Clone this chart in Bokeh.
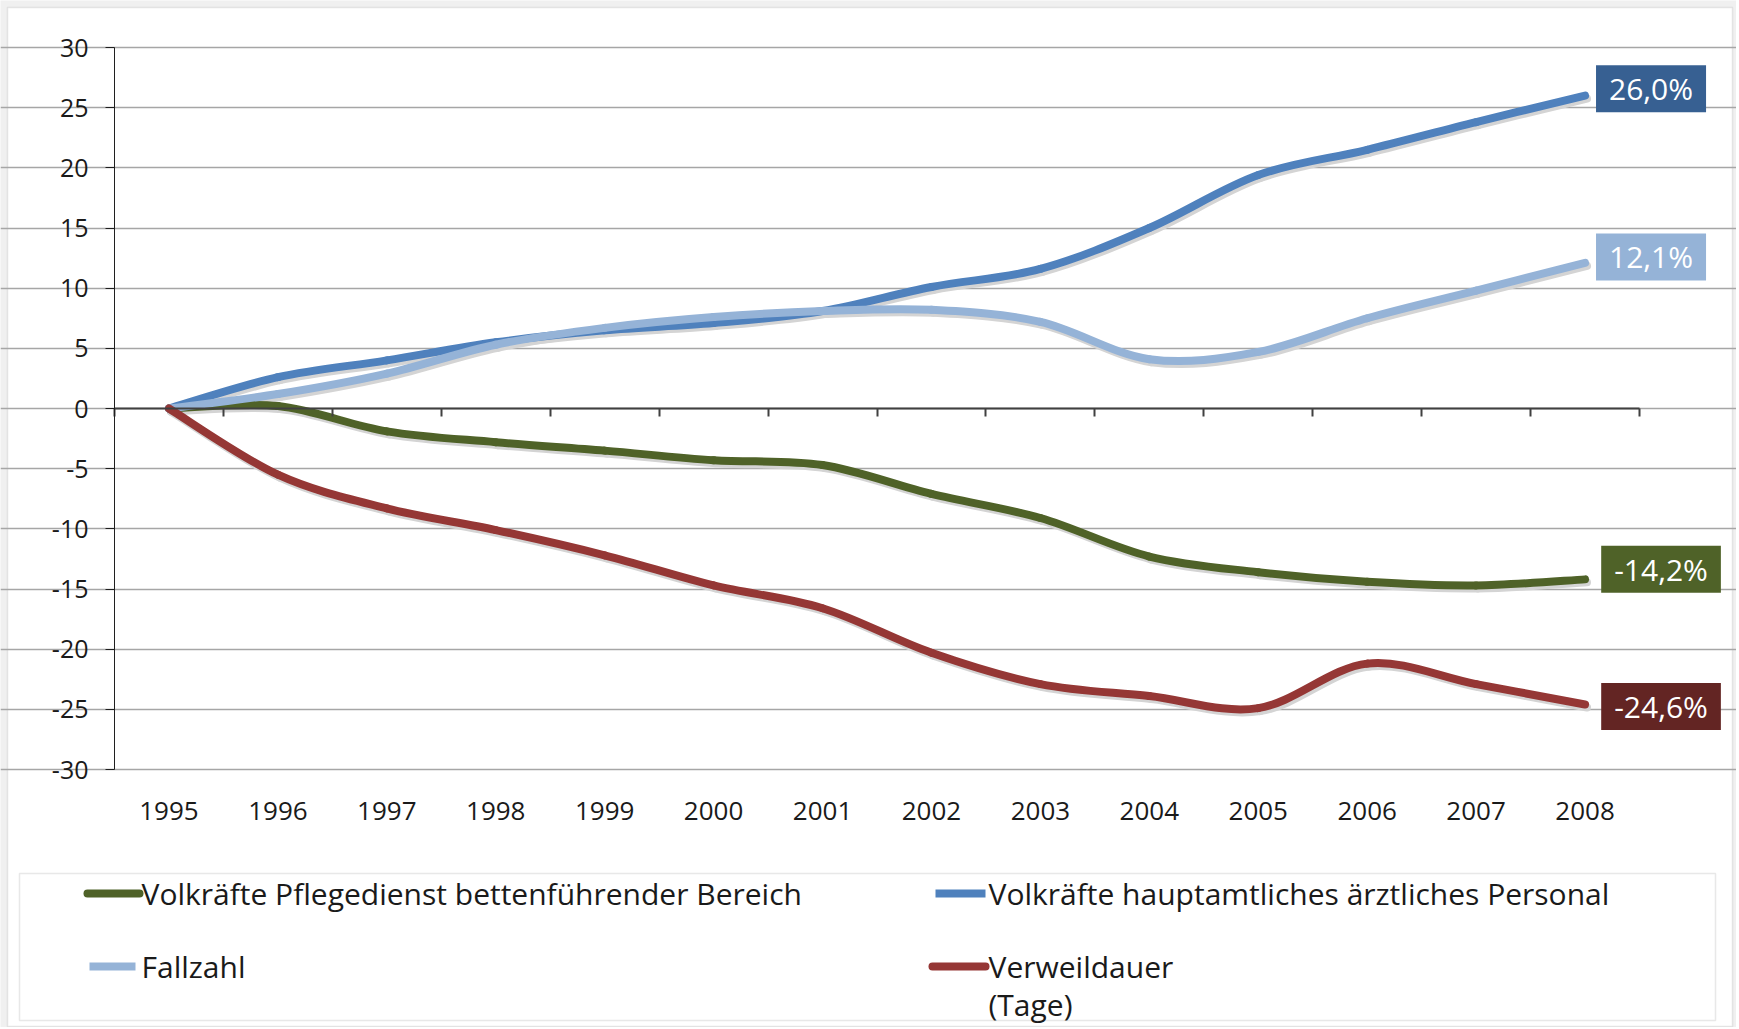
from bokeh.plotting import figure
from bokeh.models import (Range1d, FixedTicker, Label, LinearAxis, CustomJSTickFormatter,
                          ColumnDataSource, BoxAnnotation)
from bokeh.embed import file_html
from bokeh.resources import INLINE

# ---------------- data ----------------
years = [1995, 1996, 1997, 1998, 1999, 2000, 2001, 2002, 2003, 2004, 2005, 2006, 2007, 2008]
pflegedienst = [0.0, 0.2, -1.9, -2.8, -3.5, -4.3, -4.7, -7.1, -9.1, -12.3, -13.6, -14.4, -14.7, -14.2]
aerztliches = [0.0, 2.6, 4.0, 5.5, 6.5, 7.1, 8.1, 10.1, 11.6, 15.0, 19.4, 21.5, 23.8, 26.0]
fallzahl = [0.0, 1.2, 2.9, 5.3, 6.7, 7.6, 8.1, 8.2, 7.2, 4.1, 4.7, 7.5, 9.8, 12.1]
verweildauer = [0.0, -5.5, -8.3, -10.1, -12.2, -14.7, -16.6, -20.3, -22.9, -23.9, -24.9, -21.2, -22.9, -24.6]

series_names = [
    "Volkräfte Pflegedienst bettenführender Bereich",
    "Volkräfte hauptamtliches ärztliches Personal",
    "Fallzahl",
    "Verweildauer\n(Tage)",
]
end_labels = ["-14,2%", "26,0%", "12,1%", "-24,6%"]
y_ticks = [-30, -25, -20, -15, -10, -5, 0, 5, 10, 15, 20, 25, 30]

# ---------------- styles / layout (pixels) ----------------
series_values = [pflegedienst, aerztliches, fallzahl, verweildauer]
line_colors = ["#4F6228", "#4F81BD", "#95B3D7", "#953735"]
box_colors = ["#4F6228", "#376092", "#95B3D7", "#632523"]
label_dx = [76, 66, 66, 76]
label_dy = [10, 7, 6, -2]
FONT = "Open Sans"
TEXT = "#1a1a1a"

W, H = 1736, 1027
PLOT_L, PLOT_T, PLOT_B, PLOT_R = 114, 47, 769, 1639   # plot area in canvas pixels
PPX = (PLOT_R - PLOT_L) / len(years)                   # pixels per year slot
PPY = (PLOT_B - PLOT_T) / (y_ticks[-1] - y_ticks[0])   # pixels per unit

x0_data = years[0] - 0.5


def px2x(px):
    return x0_data + (px - PLOT_L) / PPX


def py2y(py):
    return y_ticks[-1] - (py - PLOT_T) / PPY


p = figure(width=W, height=H, output_backend="svg", toolbar_location=None,
           x_range=Range1d(px2x(0), px2x(W)), y_range=Range1d(py2y(H), py2y(0)),
           min_border=0, min_border_left=0, min_border_right=0,
           min_border_top=0, min_border_bottom=0)
p.outline_line_color = None
p.background_fill_color = "#f0f0f0"
p.border_fill_color = "#f0f0f0"

# white chart area with thin border
p.add_layout(BoxAnnotation(left=px2x(7), right=px2x(1732), top=py2y(7), bottom=py2y(1026),
                           fill_color="white", fill_alpha=1.0, line_color="#b4b4b4",
                           line_width=1.5, level="image"))

bounds_x = (years[0] - 0.5, years[-1] + 0.5)

# y axis (placed at the left edge of the plot area)
p.yaxis.fixed_location = x0_data
p.yaxis.bounds = (y_ticks[0], y_ticks[-1])
p.yaxis.ticker = FixedTicker(ticks=y_ticks)
p.yaxis.major_label_overrides = {t: str(t) for t in y_ticks}
p.yaxis.major_tick_out = 9
p.yaxis.major_tick_in = 0
p.yaxis.minor_tick_line_color = None
p.yaxis.axis_line_color = "#202020"
p.yaxis.major_tick_line_color = "#202020"
p.yaxis.major_label_standoff = 17
p.yaxis.major_label_text_font = FONT
p.yaxis.major_label_text_font_size = "25px"
p.yaxis.major_label_text_color = TEXT

# x labels (low position, below the -30 line)
p.xaxis.fixed_location = y_ticks[0]
p.xaxis.ticker = FixedTicker(ticks=years)
p.xaxis.axis_line_color = None
p.xaxis.major_tick_line_color = None
p.xaxis.minor_tick_line_color = None
p.xaxis.major_label_standoff = 26
p.xaxis.major_label_text_font = FONT
p.xaxis.major_label_text_font_size = "26px"
p.xaxis.major_label_text_color = TEXT

# axis line crossing at zero with category ticks
zero_axis = LinearAxis(fixed_location=0, bounds=bounds_x,
                       ticker=FixedTicker(ticks=[y - 0.5 for y in years] + [years[-1] + 0.5]),
                       formatter=CustomJSTickFormatter(code="return ''"))
zero_axis.major_tick_out = 8
zero_axis.major_tick_in = 0
zero_axis.minor_tick_line_color = None
zero_axis.axis_line_color = "#404040"
zero_axis.axis_line_width = 2
zero_axis.major_tick_line_color = "#404040"
zero_axis.major_tick_line_width = 2
p.add_layout(zero_axis, "below")

# grid
p.xgrid.visible = False
p.ygrid.ticker = FixedTicker(ticks=y_ticks)
p.ygrid.bounds = bounds_x
p.ygrid.grid_line_color = "#a6a6a6"
p.ygrid.grid_line_width = 1.5


def smooth_segments(xs, ys, dxp=0.0, dyp=0.0):
    n = len(xs)
    ox, oy = dxp / PPX, -dyp / PPY
    d = dict(x0=[], y0=[], x1=[], y1=[], cx0=[], cy0=[], cx1=[], cy1=[])
    for i in range(n - 1):
        xm, ym = (xs[i - 1], ys[i - 1]) if i > 0 else (xs[i], ys[i])
        xp, yp = (xs[i + 2], ys[i + 2]) if i + 2 < n else (xs[i + 1], ys[i + 1])
        d["x0"].append(xs[i] + ox); d["y0"].append(ys[i] + oy)
        d["x1"].append(xs[i + 1] + ox); d["y1"].append(ys[i + 1] + oy)
        d["cx0"].append(xs[i] + (xs[i + 1] - xm) / 6.0 + ox)
        d["cy0"].append(ys[i] + (ys[i + 1] - ym) / 6.0 + oy)
        d["cx1"].append(xs[i + 1] - (xp - xs[i]) / 6.0 + ox)
        d["cy1"].append(ys[i + 1] - (yp - ys[i]) / 6.0 + oy)
    return ColumnDataSource(d)


bez = dict(x0="x0", y0="y0", x1="x1", y1="y1", cx0="cx0", cy0="cy0", cx1="cx1", cy1="cy1")
# soft drop shadows first, then the lines
for vals in series_values:
    p.bezier(source=smooth_segments(years, vals, 2, 3), line_color="#d4d4d4",
             line_width=8, line_cap="round", **bez)
for vals, col in zip(series_values, line_colors):
    p.bezier(source=smooth_segments(years, vals), line_color=col, line_width=8,
             line_cap="round", **bez)

for vals, txt, bc, dx, dy in zip(series_values, end_labels, box_colors, label_dx, label_dy):
    p.add_layout(Label(x=years[-1], y=vals[-1], text=txt, x_offset=dx, y_offset=dy,
                       text_align="center", text_baseline="middle", text_color="white",
                       text_font=FONT, text_font_size="30px",
                       background_fill_color=bc, padding=(13, 3)))

# ---------------- legend (below the plot area) ----------------
p.add_layout(BoxAnnotation(left=px2x(19), right=px2x(1715), top=py2y(873), bottom=py2y(1020),
                           fill_alpha=0, line_color="#b4b4b4", line_width=1.5))

sym_x0 = [87, 935, 89, 932]
sym_x1 = [139, 985, 135, 985]
row_py = [893, 893, 966, 966]
txt_px = [141, 988, 141, 988]
caps = ["round", "butt", "butt", "round"]
LEG_FS = 30
LINE_GAP = 38
for i in range(4):
    p.segment(x0=[px2x(sym_x0[i])], y0=[py2y(row_py[i])],
              x1=[px2x(sym_x1[i])], y1=[py2y(row_py[i])],
              line_color=line_colors[i], line_width=8, line_cap=caps[i])
    nlines = series_names[i].count("\n") + 1
    p.add_layout(Label(x=px2x(txt_px[i]), y=py2y(row_py[i] + (nlines - 1) * LINE_GAP / 2),
                       text=series_names[i], text_align="left", text_baseline="middle",
                       text_font=FONT, text_font_size=f"{LEG_FS}px", text_color=TEXT,
                       text_line_height=0.93))

open("out.html", "w").write(file_html(p, INLINE))
